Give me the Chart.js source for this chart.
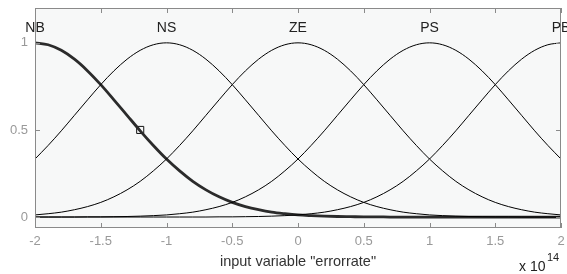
<!DOCTYPE html>
<html>
<head>
<meta charset="utf-8">
<script src="https://cdn.jsdelivr.net/npm/chart.js@4.4.1/dist/chart.umd.min.js"></script>
<style>
  html, body { margin: 0; padding: 0; background: #fff; }
</style>
</head>
<body>
<canvas id="mfChart" width="567" height="274"></canvas>
<script>
// input range sampled every 0.1 (x 10^14)
var xs = [-2.0, -1.9, -1.8, -1.7, -1.6, -1.5, -1.4, -1.3, -1.2, -1.1,
  -1.0, -0.9, -0.8, -0.7, -0.6, -0.5, -0.4, -0.3, -0.2, -0.1,
  0.0, 0.1, 0.2, 0.3, 0.4, 0.5, 0.6, 0.7, 0.8, 0.9,
  1.0, 1.1, 1.2, 1.3, 1.4, 1.5, 1.6, 1.7, 1.8, 1.9, 2.0];

// membership values
var nb = [1.000, 0.989, 0.957, 0.906, 0.839, 0.760, 0.673, 0.584, 0.495, 0.411,
  0.333, 0.265, 0.205, 0.156, 0.116, 0.084, 0.060, 0.042, 0.028, 0.019,
  0.012, 0.008, 0.005, 0.003, 0.002, 0.001, 0.001, 0, 0, 0,
  0, 0, 0, 0, 0, 0, 0, 0, 0, 0, 0];
var ns = [0.333, 0.411, 0.495, 0.584, 0.673, 0.760, 0.839, 0.906, 0.957, 0.989,
  1.000, 0.989, 0.957, 0.906, 0.839, 0.760, 0.673, 0.584, 0.495, 0.411,
  0.333, 0.265, 0.205, 0.156, 0.116, 0.084, 0.060, 0.042, 0.028, 0.019,
  0.012, 0.008, 0.005, 0.003, 0.002, 0.001, 0.001, 0, 0, 0, 0];
var ze = [0.012, 0.019, 0.028, 0.042, 0.060, 0.084, 0.116, 0.156, 0.205, 0.265,
  0.333, 0.411, 0.495, 0.584, 0.673, 0.760, 0.839, 0.906, 0.957, 0.989,
  1.000, 0.989, 0.957, 0.906, 0.839, 0.760, 0.673, 0.584, 0.495, 0.411,
  0.333, 0.265, 0.205, 0.156, 0.116, 0.084, 0.060, 0.042, 0.028, 0.019, 0.012];
var ps = [0, 0, 0, 0, 0.001, 0.001, 0.002, 0.003, 0.005, 0.008,
  0.012, 0.019, 0.028, 0.042, 0.060, 0.084, 0.116, 0.156, 0.205, 0.265,
  0.333, 0.411, 0.495, 0.584, 0.673, 0.760, 0.839, 0.906, 0.957, 0.989,
  1.000, 0.989, 0.957, 0.906, 0.839, 0.760, 0.673, 0.584, 0.495, 0.411, 0.333];
var pb = [0, 0, 0, 0, 0, 0, 0, 0, 0, 0,
  0, 0, 0, 0, 0.001, 0.001, 0.002, 0.003, 0.005, 0.008,
  0.012, 0.019, 0.028, 0.042, 0.060, 0.084, 0.116, 0.156, 0.205, 0.265,
  0.333, 0.411, 0.495, 0.584, 0.673, 0.760, 0.839, 0.906, 0.957, 0.989, 1.000];

var mfNames = ['NB', 'NS', 'ZE', 'PS', 'PB'];
var mfCenters = [-2, -1, 0, 1, 2];
var marker = [{ x: -1.2, y: 0.5 }];

var xTicks = [-2, -1.5, -1, -0.5, 0, 0.5, 1, 1.5, 2];
var yTicks = [0, 0.5, 1];

function pts(vals) {
  return xs.map(function(x, i) { return { x: x, y: vals[i] }; });
}

function curve(vals, thick) {
  return {
    type: 'line',
    data: pts(vals),
    borderColor: thick ? '#2b2b2b' : '#000',
    borderWidth: thick ? 2.8 : 1,
    pointRadius: 0,
    cubicInterpolationMode: 'monotone',
    fill: false
  };
}

// no extra room for half-labels, the frame sits where the layout says
function noPad(s) {
  s.paddingLeft = 0; s.paddingRight = 0; s.paddingTop = 0; s.paddingBottom = 0;
}

// plot frame, inward ticks, MF names, exponent
var mfFrame = {
  id: 'mfFrame',
  beforeDatasetsDraw: function(chart) {
    var a = chart.chartArea, c = chart.ctx;
    c.save();
    c.fillStyle = '#f7f8f8';
    c.fillRect(a.left, a.top, a.right - a.left, a.bottom - a.top);
    c.restore();
  },
  afterDraw: function(chart) {
    var a = chart.chartArea, c = chart.ctx;
    var sx = chart.scales.x, sy = chart.scales.y;
    c.save();
    c.strokeStyle = '#8a8a8a';
    c.lineWidth = 1;
    c.strokeRect(a.left + 0.5, a.top + 0.5, a.right - a.left - 1, a.bottom - a.top - 1);
    c.beginPath();
    xTicks.forEach(function(v) {
      var px = Math.round(sx.getPixelForValue(v)) + 0.5;
      c.moveTo(px, a.bottom); c.lineTo(px, a.bottom - 5);
      c.moveTo(px, a.top); c.lineTo(px, a.top + 5);
    });
    yTicks.forEach(function(v) {
      var py = Math.round(sy.getPixelForValue(v)) + 0.5;
      c.moveTo(a.left, py); c.lineTo(a.left + 5, py);
      c.moveTo(a.right, py); c.lineTo(a.right - 5, py);
    });
    c.stroke();

    c.fillStyle = '#222';
    c.font = '14px "Liberation Sans", Arial, sans-serif';
    c.textAlign = 'center';
    c.textBaseline = 'middle';
    mfNames.forEach(function(n, i) {
      c.fillText(n, sx.getPixelForValue(mfCenters[i]), sy.getPixelForValue(1.085));
    });

    c.textAlign = 'left';
    c.font = '14px "Liberation Sans", Arial, sans-serif';
    c.fillText('x 10', 519, 267);
    c.font = '11px "Liberation Sans", Arial, sans-serif';
    c.fillText('14', 547, 258);
    c.restore();
  }
};

var ctx = document.getElementById('mfChart').getContext('2d');
var mfChart = new Chart(ctx, {
  type: 'line',
  data: {
    datasets: [
      curve(ns), curve(ze), curve(ps), curve(pb), curve(nb, true),
      {
        type: 'scatter',
        data: marker,
        pointStyle: 'rect',
        pointRadius: 5,
        pointBorderColor: '#111',
        pointBorderWidth: 1,
        pointBackgroundColor: '#f7f8f8'
      }
    ]
  },
  options: {
    responsive: false,
    devicePixelRatio: 1,
    animation: false,
    layout: { padding: { top: 8, right: 5, left: 0, bottom: 0 } },
    plugins: { legend: { display: false }, tooltip: { enabled: false } },
    scales: {
      x: {
        type: 'linear',
        min: -2,
        max: 2,
        afterBuildTicks: function(s) { s.ticks = xTicks.map(function(v) { return { value: v }; }); },
        afterFit: function(s) { s.height = 46; noPad(s); },
        grid: { display: false, drawTicks: false },
        border: { display: false },
        ticks: {
          color: '#999',
          padding: 6,
          maxRotation: 0,
          font: { family: '"Liberation Sans", Arial, sans-serif', size: 13 },
          callback: function(v) { return String(v); }
        },
        title: {
          display: true,
          text: 'input variable "errorrate"',
          color: '#333',
          padding: { top: 0, bottom: 3 },
          font: { family: '"Liberation Sans", Arial, sans-serif', size: 14.5 }
        }
      },
      y: {
        min: -0.063,
        max: 1.2,
        afterBuildTicks: function(s) { s.ticks = yTicks.map(function(v) { return { value: v }; }); },
        afterFit: function(s) { s.width = 35; noPad(s); },
        grid: { display: false, drawTicks: false },
        border: { display: false },
        ticks: {
          color: '#999',
          padding: 7,
          font: { family: '"Liberation Sans", Arial, sans-serif', size: 13 },
          callback: function(v) { return String(v); }
        }
      }
    }
  },
  plugins: [mfFrame]
});
</script>
</body>
</html>
